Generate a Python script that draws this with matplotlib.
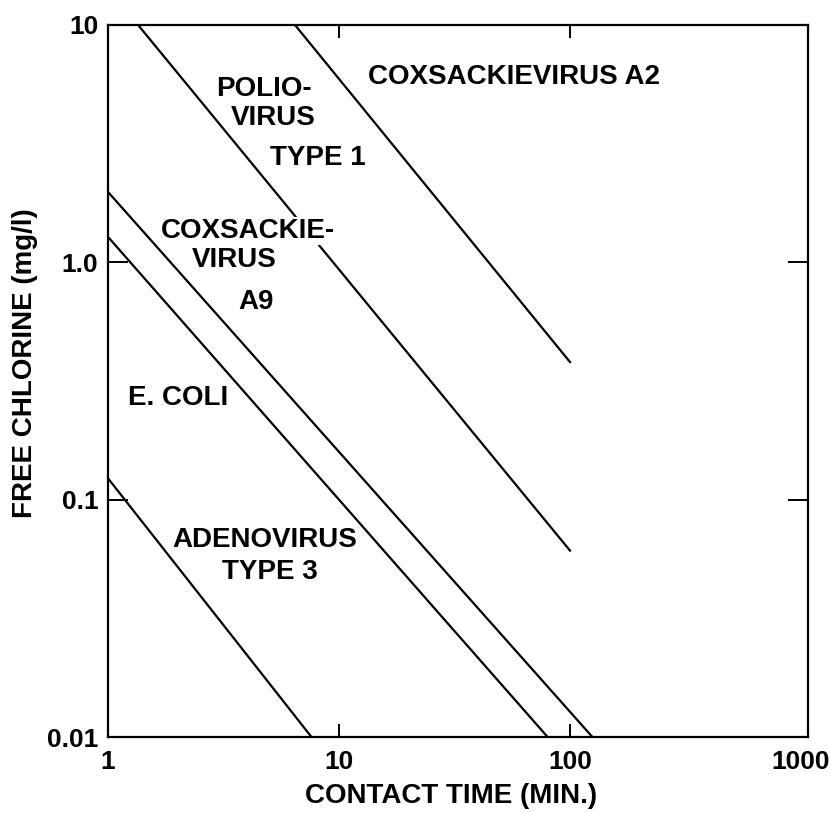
import matplotlib
matplotlib.use("Agg")
import matplotlib.pyplot as plt

plt.rcParams['font.family'] = ['Liberation Sans', 'DejaVu Sans']
plt.rcParams['font.weight'] = 'bold'

# contact time (min) / free chlorine (mg/l) end points of each line
a2_time = [6.45, 100]
a2_chlorine = [10, 0.38]
polio_time = [1.35, 100]
polio_chlorine = [10, 0.061]
a9_time = [1, 125]
a9_chlorine = [1.98, 0.01]
ecoli_time = [1, 80]
ecoli_chlorine = [1.28, 0.01]
adeno_time = [1, 7.6]
adeno_chlorine = [0.123, 0.01]

x_ticks = [1, 10, 100, 1000]
x_tick_labels = ['1', '10', '100', '1000']
y_ticks = [0.01, 0.1, 1, 10]
y_tick_labels = ['0.01', '0.1', '1.0', '10']

fig = plt.figure(figsize=(8.3, 8.13), dpi=100)
ax = fig.add_axes([108 / 830, 1 - 737 / 813, 700 / 830, 712 / 813])

for t, c in [(a2_time, a2_chlorine), (polio_time, polio_chlorine),
             (a9_time, a9_chlorine), (ecoli_time, ecoli_chlorine),
             (adeno_time, adeno_chlorine)]:
    ax.plot(t, c, color='black', lw=1.6, zorder=2)

ax.set_xscale('log')
ax.set_yscale('log')
# the scanned frame runs a little past 1000
ax.set_xlim(1, 1072)
ax.set_ylim(0.01, 10)
ax.minorticks_off()
ax.set_xticks(x_ticks, x_tick_labels)
ax.set_yticks(y_ticks, y_tick_labels)
ax.tick_params(axis='x', direction='in', length=9.5, width=1.4, top=True,
               labelsize=19, pad=9)
ax.tick_params(axis='y', direction='in', length=14.5, width=1.4, right=True,
               labelsize=19, pad=7)
last = ax.xaxis.get_major_ticks()[-1]
last.tick1line.set_visible(False)
last.tick2line.set_visible(False)
for s in ax.spines.values():
    s.set_linewidth(1.6)

ax.set_xlabel('CONTACT TIME (MIN.)', fontsize=20, fontweight='bold')
ax.xaxis.set_label_coords(0.49, -0.065)
ax.set_ylabel('FREE CHLORINE (mg/l)', fontsize=20, fontweight='bold')
ax.yaxis.set_label_coords(-0.1, 0.525)

# curve labels, placed in pixel positions of the figure
def label(px, py, s, bg=False):
    kw = dict(transform=fig.transFigure, ha='center', va='center',
              fontsize=20, fontweight='bold', zorder=5)
    if bg:
        kw['bbox'] = dict(facecolor='white', edgecolor='none', pad=1)
    fig.text(px / 830, 1 - py / 813, s, **kw)

label(514, 77, 'COXSACKIEVIRUS A2')
label(264, 89, 'POLIO-')
label(273, 118, 'VIRUS')
label(318, 158, 'TYPE 1')
label(248, 231, 'COXSACKIE-', bg=True)
label(234, 260, 'VIRUS')
label(256, 302, 'A9')
label(178, 398, 'E. COLI')
label(265, 540, 'ADENOVIRUS')
label(270, 572, 'TYPE 3')

fig.savefig('out.png', dpi=100)
